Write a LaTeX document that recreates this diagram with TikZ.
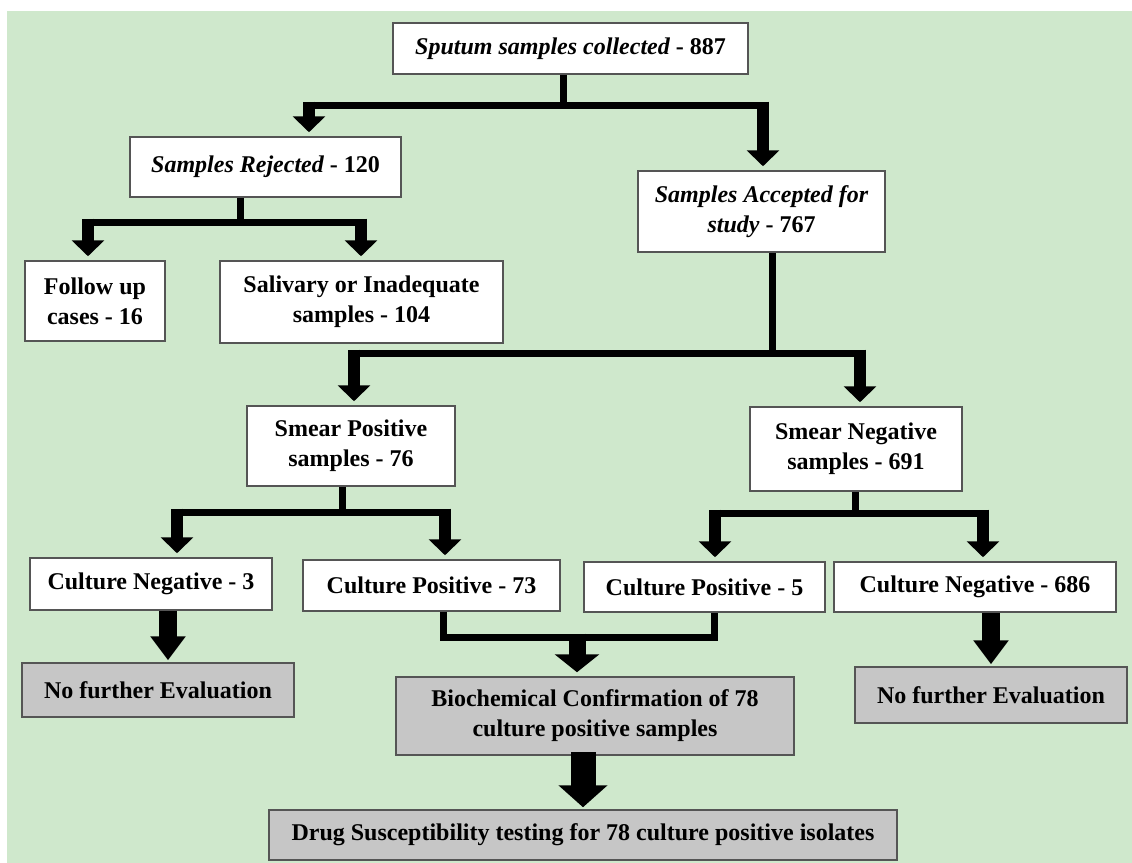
\documentclass[tikz,border=0pt]{standalone}
\usepackage{fontspec}
\setmainfont{Liberation Serif}
\usetikzlibrary{arrows.meta}
\definecolor{bggreen}{RGB}{207,232,204}
\definecolor{boxgray}{RGB}{198,198,198}
\definecolor{boxline}{RGB}{85,85,85}
\tikzset{
	box/.style={draw=boxline, line width=0.75pt, fill=white, align=center, inner sep=0pt, font=\fontsize{12}{15}\selectfont\bfseries},
	graybox/.style={box, fill=boxgray},
	link/.style={line width=3.5pt},
	arr/.style={line width=6pt, shorten <=-1.75pt, shorten >=2pt, -{Triangle[width=16pt,length=8pt]}},
	bigarr/.style={line width=9pt, shorten >=1pt, -{Triangle[width=17pt,length=12pt]}},
	hugearr/.style={line width=12.5pt, shorten <=-1.75pt, shorten >=1pt, -{Triangle[width=24pt,length=11pt]}},
}
\begin{document}
\begin{tikzpicture}[x=0.5pt, y=-0.5pt]
	\useasboundingbox (0,0) rectangle (1132,863);
	\fill[white] (0,0) rectangle (1132,863);
	\fill[bggreen] (7,11) rectangle (1132,863);
	\node[box, minimum width=177.5pt, minimum height=25.5pt] (top) at (570.5,48.5) {\itshape Sputum samples collected \upshape - 887};
	\node[box, minimum width=135.5pt, minimum height=30pt] (rej) at (265.5,167) {\itshape Samples Rejected \upshape - 120};
	\node[box, minimum width=123.5pt, minimum height=40.5pt] (acc) at (761.5,211.5) {\itshape Samples Accepted for\\\itshape study \upshape - 767};
	\node[box, minimum width=70pt, minimum height=40pt] (fol) at (95,301) {Follow up\\cases - 16};
	\node[box, minimum width=141.5pt, minimum height=41pt] (sal) at (361.5,302) {Salivary or Inadequate\\samples - 104};
	\node[box, minimum width=104pt, minimum height=40pt] (spos) at (351,446) {Smear Positive\\samples - 76};
	\node[box, minimum width=106pt, minimum height=42pt] (sneg) at (856,449) {Smear Negative\\samples - 691};
	\node[box, minimum width=121pt, minimum height=26pt] (cn3) at (151,584) {Culture Negative - 3};
	\node[box, minimum width=128.5pt, minimum height=25.5pt] (cp73) at (431.5,585.5) {Culture Positive - 73};
	\node[box, minimum width=120.5pt, minimum height=25pt] (cp5) at (704.5,587) {Culture Positive - 5};
	\node[box, minimum width=141pt, minimum height=25pt] (cn686) at (975,587) {Culture Negative - 686};
	\node[graybox, minimum width=136pt, minimum height=27pt] (nfl) at (158,690) {No further Evaluation};
	\node[graybox, minimum width=199pt, minimum height=39pt] (bio) at (595,716) {Biochemical Confirmation of 78\\culture positive samples};
	\node[graybox, minimum width=136pt, minimum height=28pt] (nfr) at (991,695) {No further Evaluation};
	\node[graybox, minimum width=314pt, minimum height=25pt] (drug) at (583,835) {Drug Susceptibility testing for 78 culture positive isolates};

	\coordinate (j1) at (563,105);
	\coordinate (j1l) at (309,105);
	\coordinate (j1r) at (763,105);
	\draw[link] (top.south -| j1) -- (j1);
	\draw[link] (j1l) -- (j1r);
	\draw[arr] (j1l) -- (j1l |- rej.north);
	\draw[arr] (j1r) -- (j1r |- acc.north);

	\coordinate (j2) at (240,222);
	\coordinate (j2l) at (88,222);
	\coordinate (j2r) at (361,222);
	\draw[link] (rej.south -| j2) -- (j2);
	\draw[link] (j2l) -- (j2r);
	\draw[arr] (j2l) -- (j2l |- fol.north);
	\draw[arr] (j2r) -- (j2r |- sal.north);

	\coordinate (j3) at (772,353);
	\coordinate (j3l) at (354,353);
	\coordinate (j3r) at (860,353);
	\draw[link] (acc.south -| j3) -- (j3);
	\draw[link] (j3l) -- (j3r);
	\draw[arr] (j3l) -- (j3l |- spos.north);
	\draw[arr] (j3r) -- (j3r |- sneg.north);

	\coordinate (j4) at (342,512);
	\coordinate (j4l) at (177,512);
	\coordinate (j4r) at (445,512);
	\draw[link] (spos.south -| j4) -- (j4);
	\draw[link] (j4l) -- (j4r);
	\draw[arr] (j4l) -- (j4l |- cn3.north);
	\draw[arr] (j4r) -- (j4r |- cp73.north);

	\coordinate (j6) at (855,513);
	\coordinate (j6l) at (715,513);
	\coordinate (j6r) at (983,513);
	\draw[link] (sneg.south -| j6) -- (j6);
	\draw[link] (j6l) -- (j6r);
	\draw[arr] (j6l) -- (j6l |- cp5.north);
	\draw[arr] (j6r) -- (j6r |- cn686.north);

	\coordinate (j5) at (577,637);
	\coordinate (j5l) at (443,637);
	\coordinate (j5r) at (714,637);
	\draw[link] (cp73.south -| j5l) -- (j5l) -- (j5r) -- (j5r |- cp5.south);
	\draw[arr, line width=8.5pt, -{Triangle[width=22pt,length=9pt]}] (j5) -- (j5 |- bio.north);

	\coordinate (k1) at (168,0);
	\draw[bigarr] (cn3.south -| k1) -- (nfl.north -| k1);
	\draw[bigarr] (cn686.south -| nfr.north) -- (nfr.north);
	\draw[hugearr] (bio.south -| drug.north) -- (drug.north);
\end{tikzpicture}
\end{document}
